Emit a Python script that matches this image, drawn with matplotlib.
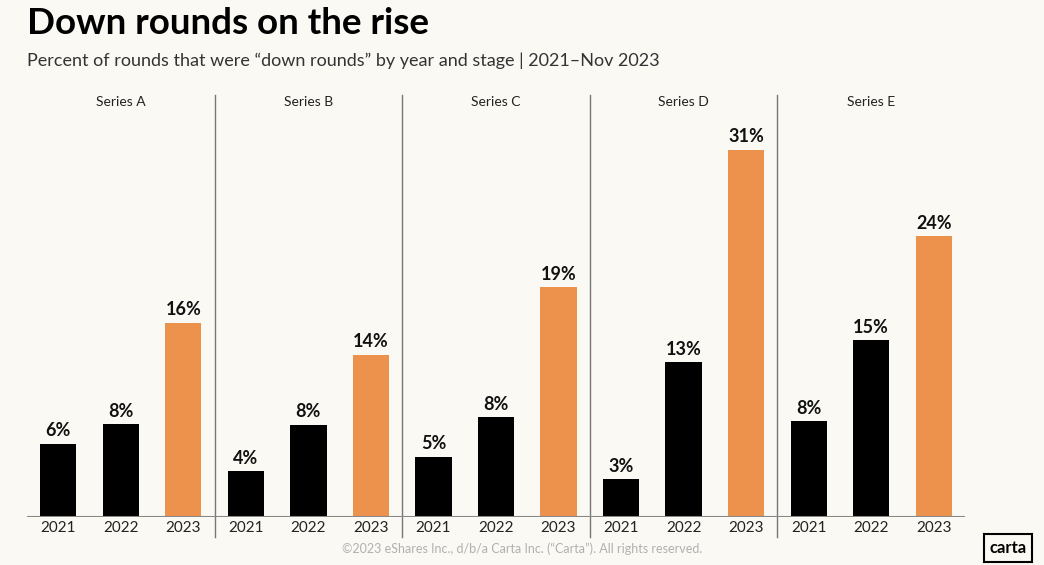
import matplotlib.pyplot as plt

stages = ['Series A', 'Series B', 'Series C', 'Series D', 'Series E']
years = ['2021', '2022', '2023']
# bar heights, labels as printed
values = [
    [6.2, 7.85, 16.4],
    [3.9, 7.8, 13.7],
    [5.1, 8.4, 19.4],
    [3.2, 13.1, 31.0],
    [8.1, 14.9, 23.7],
]
labels = [
    ['6%', '8%', '16%'],
    ['4%', '8%', '14%'],
    ['5%', '8%', '19%'],
    ['3%', '13%', '31%'],
    ['8%', '15%', '24%'],
]

BG = '#fbf9f4'
ORANGE = '#ec924c'
plt.rcParams['font.family'] = ['Lato', 'DejaVu Sans']


def main():
    fig = plt.figure(figsize=(10.44, 5.65), dpi=100, facecolor=BG)
    ax = fig.add_axes([27 / 1044, 48 / 565, 938 / 1044, 422 / 565])
    ax.set_facecolor(BG)

    for g, stage in enumerate(stages):
        for j, year in enumerate(years):
            x = 3 * g + j
            color = ORANGE if j == 2 else 'black'
            ax.bar(x, values[g][j], width=0.58, color=color, zorder=2)
            ax.text(x, values[g][j] + 0.35, labels[g][j], ha='center', va='bottom',
                    fontsize=13, fontweight='bold', color='#111111')
            ax.text(x, -0.9, year, ha='center', va='center', fontsize=11,
                    color='#222222')
        ax.text(3 * g + 1, 35.0, stage, ha='center', va='center', fontsize=10,
                color='#222222')
        if g < len(stages) - 1:
            ax.axvline(3 * g + 2.5, ymin=-0.047, ymax=1.0, color='#777777',
                       linewidth=1.0, clip_on=False)

    ax.axhline(0, color='#888888', linewidth=1.5, zorder=3)
    ax.set_xlim(-0.5, 14.5)
    ax.set_ylim(0, 35.6)
    ax.axis('off')

    fig.text(27 / 1044, 1 - 23 / 565, 'Down rounds on the rise', ha='left', va='center',
             fontsize=26.5, fontweight='bold', color='black')
    fig.text(27 / 1044, 1 - 61 / 565,
             'Percent of rounds that were \u201cdown rounds\u201d by year and stage | 2021\u2013Nov 2023',
             ha='left', va='center', fontsize=13, color='#333333')
    fig.text(522 / 1044, 1 - 549 / 565,
             '\u00a92023 eShares Inc., d/b/a Carta Inc. (\u201cCarta\u201d). All rights reserved.',
             ha='center', va='center', fontsize=9, color='#b0b0b0')
    fig.text(1008 / 1044, 1 - 548 / 565, 'carta', ha='center', va='center',
             fontsize=12, fontweight='bold', color='black',
             bbox=dict(boxstyle='square,pad=0.35', facecolor=BG, edgecolor='black',
                       linewidth=1.5))

    fig.savefig('out.png', dpi=100, facecolor=BG)


if __name__ == '__main__':
    main()
